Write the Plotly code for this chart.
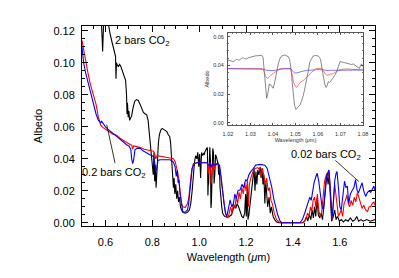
import plotly.graph_objects as go

# ---------------- main panel data (wavelength in micron, albedo) ----------------
wl_2bar = [0.575, 0.583, 0.586, 0.588, 0.590, 0.593, 0.600, 0.607, 0.613, 0.620, 0.628, 0.634, 0.640, 0.643,
           0.645, 0.647, 0.650, 0.655, 0.660, 0.665, 0.672, 0.680, 0.686, 0.690, 0.692, 0.694, 0.697, 0.700,
           0.703, 0.707, 0.712, 0.718, 0.725, 0.732, 0.740, 0.748, 0.755, 0.762, 0.770, 0.776, 0.782, 0.786,
           0.790, 0.795, 0.800, 0.804, 0.807, 0.810, 0.813, 0.816, 0.819, 0.822, 0.826, 0.830, 0.836, 0.842,
           0.848, 0.855, 0.862, 0.868, 0.874, 0.878, 0.882, 0.886, 0.890, 0.893, 0.896, 0.900, 0.904, 0.908,
           0.912, 0.916, 0.920, 0.925, 0.930, 0.940, 0.950, 0.958, 0.964, 0.970, 0.975, 0.980, 0.985, 0.990,
           0.994, 0.998, 1.002, 1.006, 1.010, 1.015, 1.020, 1.0224, 1.0239, 1.0268, 1.0298, 1.032, 1.035,
           1.0372, 1.0391, 1.0401, 1.0424, 1.0453, 1.0479, 1.0502, 1.052, 1.055, 1.0579, 1.0612, 1.0636,
           1.0668, 1.0698, 1.0742, 1.0784, 1.080, 1.083, 1.086, 1.089, 1.092, 1.096, 1.100, 1.108, 1.118,
           1.128, 1.138, 1.145, 1.150, 1.156, 1.162, 1.168, 1.175, 1.182, 1.188, 1.194, 1.198, 1.201, 1.205,
           1.208, 1.212, 1.218, 1.224, 1.230, 1.234, 1.238, 1.242, 1.246, 1.250, 1.255, 1.260, 1.264, 1.268,
           1.272, 1.276, 1.280, 1.284, 1.288, 1.292, 1.298, 1.303, 1.308, 1.315, 1.322, 1.330, 1.340, 1.440,
           1.450, 1.458, 1.463, 1.470, 1.476, 1.482, 1.487, 1.492, 1.497, 1.503, 1.508, 1.514, 1.520, 1.526,
           1.532, 1.538, 1.545, 1.550, 1.555, 1.560, 1.565, 1.572, 1.578, 1.584, 1.590, 1.598, 1.606, 1.615,
           1.625, 1.635, 1.645, 1.655, 1.665, 1.672, 1.680, 1.690, 1.700, 1.715, 1.730, 1.750]
alb_2bar = [0.150, 0.130, 0.115, 0.107, 0.118, 0.128, 0.135, 0.128, 0.122, 0.118, 0.113, 0.110, 0.107, 0.104,
            0.090, 0.100, 0.099, 0.0975, 0.099, 0.098, 0.095, 0.092, 0.089, 0.080, 0.068, 0.075, 0.066, 0.070,
            0.064, 0.065, 0.067, 0.072, 0.076, 0.077, 0.0765, 0.074, 0.071, 0.069, 0.068, 0.0675, 0.064, 0.058,
            0.052, 0.047, 0.040, 0.030, 0.044, 0.026, 0.036, 0.022, 0.030, 0.040, 0.050, 0.055, 0.058, 0.059,
            0.0585, 0.058, 0.057, 0.055, 0.054, 0.050, 0.040, 0.030, 0.022, 0.028, 0.018, 0.024, 0.015, 0.020,
            0.013, 0.016, 0.010, 0.008, 0.0065, 0.006, 0.0065, 0.008, 0.012, 0.020, 0.030, 0.038, 0.042, 0.040,
            0.044, 0.035, 0.043, 0.028, 0.044, 0.042, 0.0437, 0.0425, 0.0442, 0.0453, 0.0456, 0.0465, 0.047,
            0.017, 0.0263, 0.024, 0.0413, 0.0472, 0.039, 0.0093, 0.0123, 0.0297, 0.0465, 0.0437, 0.0246,
            0.031, 0.0425, 0.0409, 0.0378, 0.038, 0.030, 0.036, 0.022, 0.015, 0.010, 0.006, 0.004, 0.0035,
            0.004, 0.005, 0.008, 0.011, 0.009, 0.012, 0.010, 0.007, 0.004, 0.003, 0.006, 0.018, 0.004, 0.022,
            0.002, 0.005, 0.012, 0.020, 0.028, 0.034, 0.020, 0.032, 0.024, 0.033, 0.030, 0.035, 0.028, 0.034,
            0.024, 0.030, 0.012, 0.026, 0.018, 0.010, 0.016, 0.006, 0.010, 0.004, 0.002, 0.0005, 0.0, 0.0,
            0.001, 0.004, 0.001, 0.005, 0.002, 0.008, 0.003, 0.010, 0.004, 0.015, 0.005, 0.003, 0.006, 0.002,
            0.010, 0.020, 0.031, 0.024, 0.031, 0.015, 0.001, 0.004, 0.008, 0.002, 0.004, 0.001, 0.002, 0.0005,
            0.002, 0.001, 0.003, 0.001, 0.002, 0.004, 0.001, 0.002, 0.001, 0.002, 0.001, 0.002]

wl_02bar = [0.500, 0.510, 0.517, 0.525, 0.535, 0.545, 0.551, 0.560, 0.570, 0.580, 0.590, 0.600, 0.610, 0.620,
            0.630, 0.643, 0.650, 0.660, 0.670, 0.680, 0.694, 0.705, 0.712, 0.716, 0.720, 0.728, 0.740, 0.750,
            0.765, 0.780, 0.790, 0.805, 0.810, 0.815, 0.820, 0.830, 0.845, 0.860, 0.876, 0.890, 0.898, 0.904,
            0.908, 0.912, 0.916, 0.920, 0.925, 0.930, 0.940, 0.950, 0.956, 0.962, 0.968, 0.975, 0.990, 1.035,
            1.0375, 1.040, 1.043, 1.048, 1.0505, 1.052, 1.054, 1.056, 1.058, 1.060, 1.0625, 1.064, 1.066,
            1.068, 1.070, 1.075, 1.085, 1.092, 1.098, 1.104, 1.110, 1.116, 1.122, 1.128, 1.134, 1.140, 1.146,
            1.152, 1.158, 1.164, 1.170, 1.176, 1.182, 1.188, 1.194, 1.200, 1.206, 1.210, 1.214, 1.220, 1.226,
            1.232, 1.240, 1.250, 1.258, 1.264, 1.270, 1.276, 1.282, 1.288, 1.294, 1.300, 1.306, 1.312, 1.320,
            1.330, 1.345, 1.445, 1.455, 1.462, 1.468, 1.475, 1.480, 1.486, 1.492, 1.498, 1.504, 1.510, 1.516,
            1.522, 1.528, 1.535, 1.542, 1.548, 1.553, 1.558, 1.563, 1.567, 1.572, 1.578, 1.583, 1.588, 1.594,
            1.600, 1.606, 1.612, 1.618, 1.624, 1.630, 1.636, 1.642, 1.648, 1.655, 1.662, 1.668, 1.675, 1.682,
            1.688, 1.695, 1.702, 1.710, 1.718, 1.725, 1.732, 1.738, 1.745, 1.750]
alb_02bar = [0.114, 0.105, 0.100, 0.094, 0.087, 0.082, 0.080, 0.074, 0.066, 0.061, 0.0595, 0.0585, 0.0575, 0.0565,
             0.0555, 0.055, 0.0545, 0.053, 0.052, 0.0515, 0.050, 0.049, 0.0485, 0.046, 0.048, 0.0478, 0.0475, 0.047,
             0.046, 0.0455, 0.045, 0.0448, 0.043, 0.040, 0.042, 0.0418, 0.0415, 0.041, 0.0405, 0.040, 0.038, 0.034,
             0.032, 0.028, 0.022, 0.016, 0.012, 0.010, 0.0095, 0.012, 0.016, 0.025, 0.033, 0.037, 0.0375, 0.0375,
             0.031, 0.034, 0.037, 0.0375, 0.0246, 0.028, 0.030, 0.033, 0.036, 0.0375, 0.037, 0.033, 0.034,
             0.035, 0.036, 0.037, 0.036, 0.030, 0.022, 0.014, 0.008, 0.004, 0.003, 0.006, 0.010, 0.006, 0.012,
             0.009, 0.016, 0.012, 0.019, 0.015, 0.022, 0.018, 0.025, 0.020, 0.026, 0.010, 0.024, 0.028, 0.031,
             0.033, 0.034, 0.0345, 0.033, 0.029, 0.034, 0.030, 0.024, 0.028, 0.020, 0.022, 0.014, 0.012, 0.006,
             0.002, 0.0, 0.0, 0.002, 0.006, 0.004, 0.010, 0.007, 0.014, 0.016, 0.010, 0.018, 0.008, 0.004,
             0.006, 0.015, 0.026, 0.030, 0.028, 0.033, 0.020, 0.004, 0.002, 0.012, 0.024, 0.018, 0.010, 0.004,
             0.006, 0.008, 0.004, 0.012, 0.014, 0.0175, 0.012, 0.010, 0.014, 0.011, 0.016, 0.013, 0.019, 0.015,
             0.012, 0.009, 0.011, 0.008, 0.007, 0.010, 0.010, 0.012, 0.013, 0.011]

wl_002bar = [0.500, 0.507, 0.515, 0.525, 0.535, 0.541, 0.550, 0.560, 0.570, 0.580, 0.584, 0.590, 0.600, 0.610,
             0.620, 0.635, 0.648, 0.660, 0.675, 0.690, 0.700, 0.708, 0.712, 0.716, 0.720, 0.726, 0.735, 0.748,
             0.760, 0.775, 0.790, 0.805, 0.810, 0.815, 0.819, 0.824, 0.833, 0.850, 0.876, 0.890, 0.897, 0.902,
             0.906, 0.910, 0.914, 0.918, 0.922, 0.926, 0.930, 0.940, 0.950, 0.955, 0.960, 0.965, 0.970, 0.978,
             0.990, 1.035, 1.037, 1.042, 1.045, 1.048, 1.050, 1.053, 1.055, 1.060, 1.063, 1.070, 1.080, 1.087,
             1.093, 1.100, 1.106, 1.112, 1.118, 1.124, 1.132, 1.139, 1.146, 1.152, 1.158, 1.165, 1.175, 1.182,
             1.190, 1.198, 1.204, 1.212, 1.220, 1.232, 1.240, 1.260, 1.280, 1.290, 1.297, 1.303, 1.310, 1.318,
             1.325, 1.335, 1.345, 1.355, 1.430, 1.440, 1.450, 1.458, 1.465, 1.472, 1.478, 1.485, 1.490, 1.496,
             1.503, 1.510, 1.516, 1.524, 1.530, 1.536, 1.542, 1.548, 1.553, 1.558, 1.563, 1.567, 1.572, 1.578,
             1.584, 1.588, 1.594, 1.600, 1.606, 1.612, 1.620, 1.626, 1.632, 1.638, 1.645, 1.652, 1.660, 1.667,
             1.674, 1.680, 1.688, 1.695, 1.702, 1.710, 1.718, 1.725, 1.732, 1.740, 1.745, 1.750]
alb_002bar = [0.110, 0.100, 0.094, 0.088, 0.083, 0.080, 0.074, 0.068, 0.064, 0.0625, 0.0635, 0.062, 0.060, 0.0585,
              0.0575, 0.0555, 0.054, 0.0525, 0.0505, 0.0488, 0.048, 0.046, 0.040, 0.037, 0.039, 0.0456, 0.0465,
              0.0467, 0.045, 0.0435, 0.0425, 0.0415, 0.038, 0.032, 0.034, 0.039, 0.0394, 0.0394, 0.0394, 0.038,
              0.035, 0.029, 0.033, 0.025, 0.027, 0.018, 0.014, 0.010, 0.007, 0.0065, 0.008, 0.012, 0.020, 0.028,
              0.034, 0.037, 0.0375, 0.0375, 0.036, 0.036, 0.0375, 0.0365, 0.0345, 0.0355, 0.0367, 0.037, 0.036,
              0.0365, 0.037, 0.036, 0.030, 0.020, 0.012, 0.006, 0.004, 0.008, 0.0144, 0.010, 0.012, 0.018, 0.015,
              0.020, 0.0206, 0.024, 0.022, 0.027, 0.026, 0.030, 0.032, 0.034, 0.036, 0.0365, 0.036, 0.034, 0.030,
              0.027, 0.022, 0.015, 0.010, 0.005, 0.001, 0.0, 0.0, 0.002, 0.006, 0.010, 0.012, 0.016, 0.014, 0.022,
              0.025, 0.028, 0.031, 0.026, 0.020, 0.010, 0.008, 0.020, 0.028, 0.031, 0.033, 0.024, 0.008, 0.003,
              0.012, 0.026, 0.031, 0.032, 0.022, 0.010, 0.008, 0.016, 0.026, 0.022, 0.023, 0.012, 0.018, 0.020,
              0.022, 0.027, 0.020, 0.019, 0.022, 0.025, 0.020, 0.0165, 0.019, 0.020, 0.019, 0.021, 0.023, 0.020]

# ---------------- inset data (1.02 - 1.08 micron) ----------------
wl_in_2bar = [1.0200, 1.0210, 1.0224, 1.0232, 1.0239, 1.0246, 1.0253, 1.0260, 1.0268, 1.0275, 1.0283, 1.0290,
              1.0298, 1.0310, 1.0320, 1.0335, 1.0350, 1.0356, 1.0362, 1.0367, 1.0372, 1.0377, 1.0384, 1.0391,
              1.0396, 1.0401, 1.0409, 1.0416, 1.0424, 1.0432, 1.0439, 1.0453, 1.0468, 1.0474, 1.0479, 1.0485,
              1.0490, 1.0496, 1.0502, 1.0508, 1.0513, 1.0520, 1.0527, 1.0535, 1.0543, 1.0550, 1.0557, 1.0564,
              1.0572, 1.0579, 1.0590, 1.0601, 1.0607, 1.0612, 1.0618, 1.0624, 1.0630, 1.0636, 1.0641, 1.0646,
              1.0651, 1.0657, 1.0662, 1.0668, 1.0675, 1.0683, 1.0690, 1.0698, 1.0710, 1.0720, 1.0730, 1.0742,
              1.0750, 1.0757, 1.0765, 1.0772, 1.0778, 1.0784, 1.0790, 1.0794, 1.0800]
alb_in_2bar = [0.0437, 0.0430, 0.0425, 0.0435, 0.0442, 0.0436, 0.0438, 0.0448, 0.0453, 0.0444, 0.0445, 0.0452,
               0.0456, 0.0460, 0.0465, 0.0467, 0.0470, 0.0455, 0.0350, 0.0240, 0.0170, 0.0200, 0.0270, 0.0263,
               0.0250, 0.0240, 0.0290, 0.0360, 0.0413, 0.0450, 0.0465, 0.0472, 0.0460, 0.0440, 0.0390, 0.0290,
               0.0180, 0.0120, 0.0093, 0.0105, 0.0116, 0.0123, 0.0150, 0.0190, 0.0250, 0.0297, 0.0360, 0.0425,
               0.0450, 0.0465, 0.0468, 0.0465, 0.0455, 0.0437, 0.0380, 0.0323, 0.0270, 0.0246, 0.0260, 0.0286,
               0.0280, 0.0290, 0.0300, 0.0310, 0.0330, 0.0355, 0.0390, 0.0425, 0.0422, 0.0418, 0.0412, 0.0409,
               0.0405, 0.0410, 0.0400, 0.0390, 0.0385, 0.0378, 0.0400, 0.0410, 0.0390]

wl_in_02bar = [1.0200, 1.0300, 1.0352, 1.0360, 1.0368, 1.0375, 1.0382, 1.0390, 1.0400, 1.0410, 1.0420, 1.0430,
               1.0440, 1.0478, 1.0485, 1.0492, 1.0500, 1.0506, 1.0512, 1.0520, 1.0530, 1.0540, 1.0550, 1.0560,
               1.0570, 1.0580, 1.0590, 1.0600, 1.0615, 1.0625, 1.0632, 1.0640, 1.0648, 1.0655, 1.0665, 1.0675,
               1.0685, 1.0695, 1.0710, 1.0730, 1.0750, 1.0770, 1.0790, 1.0800]
alb_in_02bar = [0.0378, 0.0378, 0.0378, 0.0360, 0.0320, 0.0310, 0.0315, 0.0330, 0.0340, 0.0350, 0.0365, 0.0375,
                0.0378, 0.0378, 0.0340, 0.0280, 0.0252, 0.0246, 0.0260, 0.0280, 0.0290, 0.0300, 0.0320, 0.0330,
                0.0350, 0.0365, 0.0375, 0.0378, 0.0378, 0.0360, 0.0340, 0.0330, 0.0335, 0.0340, 0.0340, 0.0350,
                0.0360, 0.0368, 0.0372, 0.0375, 0.0372, 0.0370, 0.0368, 0.0368]

wl_in_002bar = [1.0200, 1.0350, 1.0362, 1.0370, 1.0385, 1.0400, 1.0420, 1.0440, 1.0478, 1.0488, 1.0495, 1.0502,
                1.0510, 1.0530, 1.0550, 1.0580, 1.0600, 1.0625, 1.0640, 1.0660, 1.0700, 1.0750, 1.0800]
alb_in_002bar = [0.0376, 0.0376, 0.0372, 0.0365, 0.0362, 0.0363, 0.0368, 0.0374, 0.0376, 0.0360, 0.0348, 0.0345,
                 0.0350, 0.0358, 0.0364, 0.0368, 0.0370, 0.0368, 0.0364, 0.0365, 0.0367, 0.0368, 0.0367]

FONT = "Liberation Sans, Arial, Helvetica, sans-serif"

fig = go.Figure()

# main curves
fig.add_trace(go.Scatter(x=wl_2bar, y=alb_2bar, mode="lines", line=dict(color="black", width=1.1),
                         xaxis="x", yaxis="y", showlegend=False))
fig.add_trace(go.Scatter(x=wl_02bar, y=alb_02bar, mode="lines", line=dict(color="#ff0000", width=1.1),
                         xaxis="x", yaxis="y", showlegend=False))
fig.add_trace(go.Scatter(x=wl_002bar, y=alb_002bar, mode="lines", line=dict(color="#0000ff", width=1.1),
                         xaxis="x", yaxis="y", showlegend=False))

# inset curves
fig.add_trace(go.Scatter(x=wl_in_2bar, y=alb_in_2bar, mode="lines", line=dict(color="#555555", width=0.7),
                         xaxis="x2", yaxis="y2", showlegend=False))
fig.add_trace(go.Scatter(x=wl_in_02bar, y=alb_in_02bar, mode="lines", line=dict(color="#ff4040", width=0.7),
                         xaxis="x2", yaxis="y2", showlegend=False))
fig.add_trace(go.Scatter(x=wl_in_002bar, y=alb_in_002bar, mode="lines", line=dict(color="#4040ff", width=0.7),
                         xaxis="x2", yaxis="y2", showlegend=False))

ann_font = dict(family=FONT, size=11, color="black")
fig.add_annotation(x=0.757, y=0.1138, xref="x", yref="y", text="2 bars CO<sub>2</sub>",
                   showarrow=False, font=ann_font)
fig.add_annotation(x=0.636, y=0.031, xref="x", yref="y", text="0.2 bars CO<sub>2</sub>",
                   showarrow=False, font=ann_font)
fig.add_annotation(x=1.543, y=0.0425, xref="x", yref="y", text="0.02 bars CO<sub>2</sub>",
                   showarrow=False, font=ann_font)

fig.add_shape(type="line", xref="x", yref="y", x0=0.641, y0=0.0373, x1=0.6055, y1=0.0613,
              line=dict(color="black", width=0.8))
fig.add_shape(type="line", xref="x", yref="y", x0=1.581, y0=0.039, x1=1.681, y1=0.0258,
              line=dict(color="black", width=0.8))

tick_font = dict(family=FONT, size=11, color="black")
small_font = dict(family=FONT, size=5.5, color="#333333")

# page body has an 8px default margin, so the figure is drawn 8px in from the top-left
fig.update_layout(
    template="none",
    width=391, height=270,
    margin=dict(l=74, r=24, t=18, b=52, autoexpand=False),
    paper_bgcolor="white", plot_bgcolor="white",
    font=dict(family=FONT, size=11, color="black"),
    xaxis=dict(domain=[0, 1], range=[0.5, 1.75], showline=True, linecolor="black", linewidth=1,
               mirror="ticks", ticks="inside", ticklen=6, tickwidth=1, tickcolor="black",
               tick0=0.6, dtick=0.2, tickformat=".1f", showgrid=False, zeroline=False, automargin=False,
               tickfont=tick_font, ticklabelstandoff=6,
               minor=dict(dtick=0.05, ticks="inside", ticklen=3, tickcolor="black", showgrid=False),
               title=dict(text="Wavelength (<i>μ</i>m)", font=tick_font, standoff=6)),
    yaxis=dict(domain=[0, 1], range=[-0.002, 0.123], showline=True, linecolor="black", linewidth=1,
               mirror="ticks", ticks="inside", ticklen=6, tickwidth=1, tickcolor="black",
               tick0=0, dtick=0.02, tickformat=".2f", showgrid=False, zeroline=False, automargin=False,
               tickfont=tick_font, ticklabelstandoff=4,
               minor=dict(dtick=0.005, ticks="inside", ticklen=3, tickcolor="black", showgrid=False),
               title=dict(text="Albedo", font=tick_font, standoff=8)),
    xaxis2=dict(domain=[0.498, 0.959], range=[1.02, 1.08], anchor="y2", showline=True, linecolor="#555555",
                linewidth=0.8, mirror="ticks", ticks="inside", ticklen=2, tickwidth=0.6, tickcolor="#555555",
                tick0=1.02, dtick=0.01, tickformat=".2f", showgrid=False, zeroline=False, automargin=False,
                tickfont=small_font, ticklabelstandoff=3,
                minor=dict(dtick=0.002, ticks="inside", ticklen=1, tickcolor="#777777", showgrid=False),
                title=dict(text="Wavelength (<i>μ</i>m)", font=small_font, standoff=2)),
    yaxis2=dict(domain=[0.505, 0.965], range=[-0.0016, 0.0625], anchor="x2", showline=True, linecolor="#555555",
                linewidth=0.8, mirror="ticks", ticks="inside", ticklen=2, tickwidth=0.6, tickcolor="#555555",
                tick0=0, dtick=0.02, tickformat=".2f", showgrid=False, zeroline=False, automargin=False,
                tickfont=small_font, ticklabelstandoff=2,
                minor=dict(dtick=0.005, ticks="inside", ticklen=1, tickcolor="#777777", showgrid=False),
                title=dict(text="Albedo", font=small_font, standoff=3)),
)

fig.write_html("out.html")
